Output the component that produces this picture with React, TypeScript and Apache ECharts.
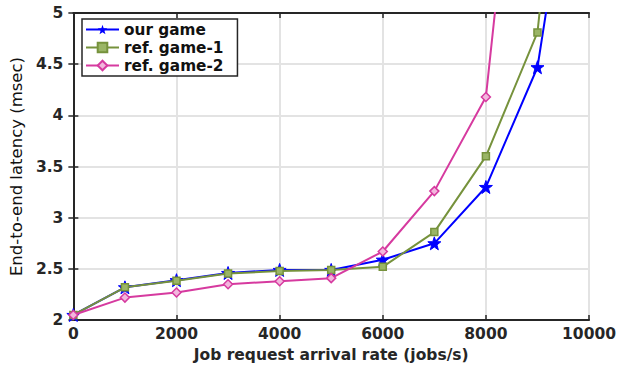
import React, { useEffect, useRef } from "react";
import * as echarts from "echarts";

// Arrival rates (jobs/s)
const rates = [0, 1000, 2000, 3000, 4000, 5000, 6000, 7000, 8000, 9000, 10000];
// End-to-end latency (msec)
const ourGame = [2.05, 2.32, 2.39, 2.46, 2.49, 2.49, 2.59, 2.75, 3.3, 4.47, 7.7];
const refGame1 = [2.05, 2.32, 2.385, 2.455, 2.48, 2.49, 2.52, 2.86, 3.6, 4.81, 9.6];
const refGame2 = [2.05, 2.22, 2.27, 2.35, 2.38, 2.41, 2.67, 3.26, 4.18, 8.9];

const xTicks = [0, 2000, 4000, 6000, 8000, 10000];
const yTicks = [2, 2.5, 3, 3.5, 4, 4.5, 5];

const STAR =
  "path://M0,-10L2.35,-3.24L9.51,-3.09L3.8,1.24L5.88,8.09L0,4.1L-5.88,8.09L-3.8,1.24L-9.51,-3.09L-2.35,-3.24Z";

const FONT = "DejaVu Sans";
const AXIS = "#262626";

export default function App() {
  const ref = useRef<HTMLDivElement>(null);

  useEffect(() => {
    if (!ref.current) return;
    const chart = echarts.init(ref.current, null, { renderer: "svg" });
    const pair = (ys: number[]) => ys.map((y, i) => [rates[i], y]);

    const axisCommon = {
      axisLine: { show: true, lineStyle: { color: AXIS, width: 2 } },
      axisTick: { show: true, inside: true, length: 5, lineStyle: { color: AXIS, width: 1.5 } },
    };

    chart.setOption({
      animation: false,
      backgroundColor: "#ffffff",
      textStyle: { fontFamily: FONT },
      grid: { left: 71, right: 27, top: 13, bottom: 47, containLabel: false },
      legend: {
        orient: "vertical",
        left: 82,
        top: 19,
        padding: [1.5, 14, 1.5, 3],
        itemGap: 0,
        itemWidth: 33,
        itemHeight: 12,
        backgroundColor: "#ffffff",
        borderColor: AXIS,
        borderWidth: 1.5,
        borderRadius: 0,
        textStyle: {
          fontFamily: FONT,
          fontWeight: "bold",
          fontSize: 15.3,
          lineHeight: 18,
          color: "#111",
        },
        data: ["our game", "ref. game-1", "ref. game-2"],
      },
      xAxis: [
        {
          type: "value",
          min: 0,
          max: 10000,
          interval: 2000,
          name: "Job request arrival rate (jobs/s)",
          nameLocation: "middle",
          nameGap: 24,
          nameTextStyle: { fontFamily: FONT, fontWeight: "bold", fontSize: 15.5, color: AXIS },
          ...axisCommon,
          axisLabel: {
            fontFamily: FONT,
            fontWeight: "bold",
            fontSize: 15.5,
            color: AXIS,
            margin: 6,
            formatter: (v: number) => (xTicks.includes(v) ? String(v) : ""),
          },
          splitLine: { show: true, lineStyle: { color: "#e3e3e3", width: 2 } },
        },
        {
          type: "value",
          position: "top",
          min: 0,
          max: 10000,
          interval: 2000,
          ...axisCommon,
          axisLabel: { show: false },
          splitLine: { show: false },
        },
      ],
      yAxis: [
        {
          type: "value",
          min: 2,
          max: 5,
          interval: 0.5,
          name: "End-to-end latency (msec)",
          nameLocation: "middle",
          nameGap: 32,
          nameTextStyle: { fontFamily: FONT, fontSize: 16.5, color: "#111" },
          ...axisCommon,
          axisLabel: {
            fontFamily: FONT,
            fontWeight: "bold",
            fontSize: 15.5,
            color: AXIS,
            margin: 10,
            formatter: (v: number) => (yTicks.includes(v) ? String(v) : ""),
          },
          splitLine: { show: true, lineStyle: { color: "#e3e3e3", width: 2 } },
        },
        {
          type: "value",
          position: "right",
          min: 2,
          max: 5,
          interval: 0.5,
          ...axisCommon,
          axisLabel: { show: false },
          splitLine: { show: false },
        },
      ],
      series: [
        {
          name: "our game",
          type: "line",
          data: pair(ourGame),
          clip: true,
          symbol: STAR,
          symbolSize: 13,
          z: 2,
          lineStyle: { color: "#0000ff", width: 2 },
          itemStyle: { color: "#0000ff", borderColor: "#0000ff" },
        },
        {
          name: "ref. game-1",
          type: "line",
          data: pair(refGame1),
          clip: true,
          symbol: "rect",
          symbolSize: 7,
          z: 3,
          lineStyle: { color: "#76923c", width: 2 },
          itemStyle: { color: "#9ab566", borderColor: "#76923c", borderWidth: 1.5 },
        },
        {
          name: "ref. game-2",
          type: "line",
          data: pair(refGame2),
          clip: true,
          symbol: "diamond",
          symbolSize: 9,
          z: 4,
          lineStyle: { color: "#d63a9f", width: 2 },
          itemStyle: { color: "#f2b7dd", borderColor: "#d63a9f", borderWidth: 1.5 },
        },
      ],
    });

    return () => chart.dispose();
  }, []);

  return (
    <div
      ref={ref}
      style={{ position: "absolute", left: 0, top: 0, width: 619, height: 368 }}
    />
  );
}
